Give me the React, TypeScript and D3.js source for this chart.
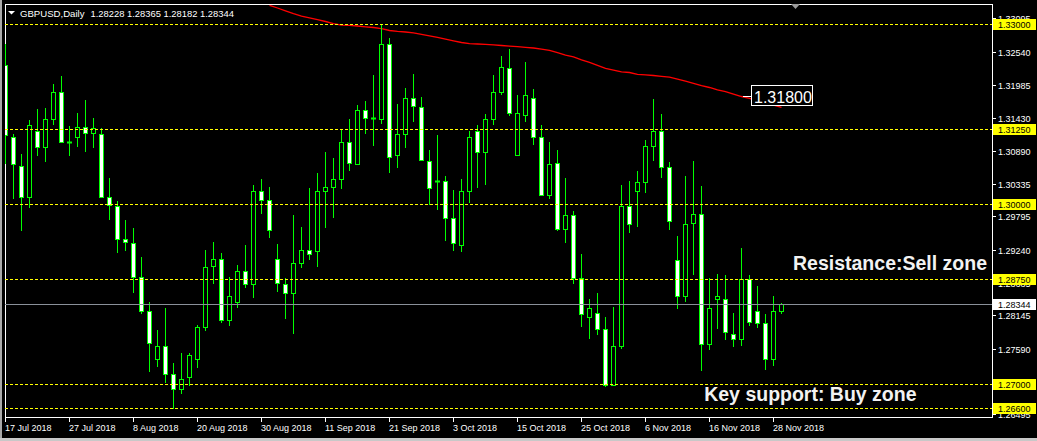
import React, { useEffect } from "react";
import * as d3 from "d3";

// ---- Data (GBPUSD Daily) ----
const dateLabels = [
  "17 Jul 2018", "27 Jul 2018", "8 Aug 2018", "20 Aug 2018", "30 Aug 2018",
  "11 Sep 2018", "21 Sep 2018", "3 Oct 2018", "15 Oct 2018", "25 Oct 2018",
  "6 Nov 2018", "16 Nov 2018", "28 Nov 2018",
];
const dateLabelStep = 8;

const opens = [
  1.32333, 1.31133, 1.3065, 1.30128, 1.31217, 1.3095, 1.31433, 1.31867, 1.3105, 1.31133,
  1.313, 1.312, 1.31183, 1.30128, 1.29967, 1.29433, 1.29361, 1.28794, 1.28217, 1.27417,
  1.2765, 1.27167, 1.26933, 1.27117, 1.27417, 1.2795, 1.28983, 1.291, 1.28083, 1.28367,
  1.289, 1.28683, 1.30233, 1.30067, 1.291, 1.28683, 1.28517, 1.29033, 1.2925, 1.29217,
  1.30233, 1.303, 1.30417, 1.3105, 1.30683, 1.31567, 1.31439, 1.31433, 1.32667, 1.30817,
  1.31167, 1.31767, 1.31633, 1.30733, 1.30389, 1.304, 1.29767, 1.29333, 1.30217, 1.31217,
  1.30883, 1.31417, 1.31883, 1.32267, 1.30833, 1.315, 1.31783, 1.31117, 1.30161, 1.307,
  1.296, 1.29817, 1.28783, 1.28133, 1.282, 1.27917, 1.27, 1.2765, 1.29967, 1.30217,
  1.30367, 1.30967, 1.31233, 1.30617, 1.29083, 1.28467, 1.297, 1.2985, 1.27683, 1.28433,
  1.28428, 1.2785, 1.2775, 1.2875, 1.28217, 1.28033, 1.27433, 1.28228,
];
const highs = [
  1.32683, 1.31172, 1.30839, 1.31406, 1.31589, 1.31606, 1.32006, 1.32139, 1.31306, 1.31522,
  1.31739, 1.31439, 1.31283, 1.30439, 1.30056, 1.29739, 1.29606, 1.29117, 1.28372, 1.27906,
  1.28272, 1.2735, 1.27533, 1.27517, 1.27989, 1.29239, 1.29372, 1.29189, 1.288, 1.29,
  1.29322, 1.30322, 1.30428, 1.30289, 1.29339, 1.28767, 1.29822, 1.29622, 1.30283, 1.30522,
  1.30872, 1.30772, 1.31244, 1.31433, 1.31656, 1.31717, 1.32156, 1.32989, 1.32772, 1.31672,
  1.31939, 1.32172, 1.31789, 1.30906, 1.31156, 1.30483, 1.30239, 1.30422, 1.31222, 1.31317,
  1.31506, 1.32156, 1.32472, 1.32589, 1.31822, 1.32372, 1.31922, 1.31317, 1.31039, 1.30906,
  1.30439, 1.299, 1.29183, 1.28422, 1.28522, 1.28122, 1.283, 1.30333, 1.304, 1.30556,
  1.31067, 1.31756, 1.31506, 1.30711, 1.29472, 1.30472, 1.30728, 1.30306, 1.28767, 1.28839,
  1.28817, 1.28189, 1.29272, 1.28822, 1.28639, 1.28183, 1.28467, 1.28365,
];
const lows = [
  1.30672, 1.30094, 1.29561, 1.29944, 1.30811, 1.30711, 1.31328, 1.31044, 1.30811, 1.30956,
  1.30878, 1.30944, 1.30122, 1.29744, 1.29194, 1.29222, 1.28528, 1.28178, 1.27211, 1.27294,
  1.27028, 1.266, 1.2685, 1.26972, 1.27278, 1.279, 1.28667, 1.28033, 1.27978, 1.28272,
  1.28611, 1.28444, 1.29839, 1.29444, 1.28544, 1.28089, 1.27839, 1.28944, 1.29083, 1.28961,
  1.29611, 1.29778, 1.30261, 1.30561, 1.30678, 1.31178, 1.30978, 1.31344, 1.30528, 1.30611,
  1.30944, 1.31378, 1.30728, 1.3, 1.29911, 1.29394, 1.29228, 1.29211, 1.30028, 1.30278,
  1.30328, 1.31328, 1.31817, 1.31483, 1.30811, 1.31378, 1.30994, 1.30144, 1.30094, 1.2955,
  1.29361, 1.28667, 1.27961, 1.27761, 1.27833, 1.2695, 1.26983, 1.276, 1.29517, 1.29633,
  1.302, 1.30728, 1.30444, 1.29578, 1.28261, 1.28367, 1.28817, 1.27228, 1.27583, 1.27928,
  1.27744, 1.27628, 1.27644, 1.27978, 1.27944, 1.27244, 1.27311, 1.28182,
];
const closes = [
  1.31156, 1.30683, 1.30128, 1.31317, 1.3095, 1.31433, 1.31867, 1.3105, 1.3104, 1.313,
  1.312, 1.31267, 1.30128, 1.3, 1.29433, 1.29378, 1.28794, 1.28222, 1.27694, 1.2765,
  1.27167, 1.26933, 1.271, 1.275, 1.2795, 1.2895, 1.291, 1.28083, 1.28467, 1.289,
  1.28683, 1.30233, 1.30067, 1.29583, 1.287, 1.28517, 1.29033, 1.2925, 1.29167, 1.30233,
  1.303, 1.30433, 1.3105, 1.307, 1.31567, 1.3145, 1.31439, 1.32683, 1.308, 1.31167,
  1.31767, 1.3165, 1.30744, 1.30283, 1.30389, 1.29783, 1.2935, 1.30217, 1.31133, 1.30883,
  1.31417, 1.31883, 1.323, 1.31517, 1.31517, 1.31833, 1.31133, 1.30161, 1.30667, 1.296,
  1.29833, 1.28783, 1.28167, 1.28283, 1.27917, 1.27, 1.2765, 1.29983, 1.29683, 1.30367,
  1.30967, 1.31233, 1.30617, 1.29733, 1.28483, 1.29683, 1.2985, 1.27683, 1.28267, 1.28483,
  1.27872, 1.2775, 1.2875, 1.2805, 1.28033, 1.27433, 1.28217, 1.28344,
];

// Moving average (red), starting at bar index maStart
const maStart = 33;
const maValues = [
  1.3332, 1.33275, 1.33228, 1.33182, 1.3314, 1.3311, 1.3308, 1.3305, 1.33015, 1.3299,
  1.32985, 1.32975, 1.32962, 1.3295, 1.3293, 1.329, 1.32885, 1.32875, 1.3286, 1.32835,
  1.32812, 1.32785, 1.32755, 1.32728, 1.327, 1.3268, 1.32675, 1.3267, 1.3266, 1.3265,
  1.3264, 1.3263, 1.3262, 1.32608, 1.3259, 1.3257, 1.3253, 1.3249, 1.3246, 1.3241,
  1.3237, 1.3232, 1.3227, 1.3224, 1.3221, 1.322, 1.3217, 1.3216, 1.3215, 1.32135,
  1.32122, 1.3209, 1.32055, 1.3202, 1.3198, 1.3195, 1.3191, 1.3188, 1.3184, 1.318,
  1.3177, 1.3173, 1.3169, 1.31655, 1.3162,
];

const priceTicks = [
  1.33095, 1.3254, 1.31985, 1.3143, 1.3089, 1.30335, 1.29795, 1.2924, 1.28685,
  1.28145, 1.2759, 1.26495,
];
const levelLines = [1.33, 1.3125, 1.3, 1.2875, 1.27, 1.266];
const bidPrice = 1.28344;
const maLabelValue = 1.318;
const headerSymbol = "GBPUSD,Daily";
const annotations = [
  { text: "Resistance:Sell zone", price: 1.2891, bar: 98.5 },
  { text: "Key support: Buy zone", price: 1.26725, bar: 87.4 },
];

// ---- Layout ----
const W = 1037;
const H = 441;
const left = 5;
const right = 992;
const top = 4;
const bottom = 417;
const FONT = "'Liberation Sans', Arial, Helvetica, sans-serif";
const GREEN = "#00ff00";

export default function App() {
  useEffect(() => {
    document.body.style.margin = "0";
    document.body.style.background = "#000";
  }, []);

  const x = d3.scaleLinear().domain([0, 97]).range([5, 5 + 97 * 8]);
  const y = d3.scaleLinear().domain([1.266, 1.33]).range([408.5, 24.5]);
  const fmt = d3.format(".5f");
  const crisp = (v: number) => Math.floor(v) + 0.5;

  const candles = opens.map((o, i) => {
    const cx = Math.round(x(i)) + 0.5;
    const yo = y(o);
    const yc = y(closes[i]);
    const yh = Math.round(y(highs[i]));
    const yl = Math.round(y(lows[i]));
    const t = Math.round(Math.min(yo, yc));
    const b = Math.round(Math.max(yo, yc));
    const bear = closes[i] < o;
    return (
      <g key={i}>
        <line x1={cx} x2={cx} y1={yh} y2={yl} stroke={GREEN} strokeWidth={1} />
        {b - t < 1 ? (
          <line x1={cx - 2.5} x2={cx + 2.5} y1={t + 0.5} y2={t + 0.5} stroke={GREEN} strokeWidth={2} />
        ) : (
          <rect x={cx - 2} y={t + 0.5} width={4} height={b - t} fill={bear ? "#ffffff" : "#000000"} stroke={GREEN} strokeWidth={1} />
        )}
      </g>
    );
  });

  const maLine = d3
    .line<number>()
    .x((_, k) => Math.round(x(maStart + k)) + 0.5)
    .y((v) => y(v));

  const bidY = Math.round(y(bidPrice)) + 0.5;
  const maLabelY = y(maLabelValue);

  return (
    <svg width={W} height={H} style={{ position: "fixed", left: 0, top: 0, display: "block", background: "#000" }} fontFamily={FONT}>
      <defs>
        <clipPath id="plot">
          <rect x={left} y={top + 1} width={right - left} height={bottom - top - 1} />
        </clipPath>
      </defs>
      <rect x={0} y={0} width={W} height={H} fill="#000" />
      {/* window edge */}
      <rect x={0} y={0} width={2} height={H} fill="#a8a8a8" />
      <rect x={0} y={438} width={W} height={3} fill="#c8c8c8" />

      {/* frame */}
      <rect x={left + 0.5} y={top + 0.5} width={right - left} height={bottom - top} fill="none" stroke="#ffffff" strokeWidth={1} />

      <g clipPath="url(#plot)">
        <path d={maLine(maValues) || ""} fill="none" stroke="#ff0000" strokeWidth={1.3} />
        {candles}
        {levelLines.map((p) => (
          <line key={p} x1={left} x2={right} y1={crisp(y(p))} y2={crisp(y(p))} stroke="#ffff00" strokeWidth={1} strokeDasharray="3,2" />
        ))}
        <line x1={left} x2={right} y1={bidY} y2={bidY} stroke="#8a9099" strokeWidth={1} />
      </g>

      {/* header */}
      <path d="M8,11 L15,11 L11.5,14.5 Z" fill="#ffffff" />
      <text x={20} y={16.5} fontSize={9.6} fill="#ffffff">{headerSymbol}</text>
      <text x={90.5} y={16.5} fontSize={9.4} fill="#ffffff">
        {[opens[97], highs[97], lows[97], closes[97]].map(fmt).join(" ")}
      </text>
      {/* chart shift marker */}
      <path d="M791,4 L800,4 L795.5,9 Z" fill="#9a9a9a" />

      {/* MA price label */}
      <line x1={743} x2={752} y1={crisp(maLabelY)} y2={crisp(maLabelY)} stroke="#ffffff" strokeWidth={1} />
      <rect x={751.5} y={85.5} width={61} height={20} fill="#000" stroke="#ffffff" strokeWidth={1} />
      <text x={754} y={102.5} fontSize={16} fill="#ffffff">{fmt(maLabelValue)}</text>

      {/* annotations */}
      {annotations.map((a) => (
        <text key={a.text} x={x(a.bar)} y={y(a.price)} fontSize={19.5} fontWeight="bold" fill="#f2f2f2">{a.text}</text>
      ))}

      {/* right price axis */}
      {priceTicks.map((p) => (
        <g key={p}>
          <line x1={993} x2={996} y1={crisp(y(p))} y2={crisp(y(p))} stroke="#ffffff" />
          <text x={998} y={y(p) + 3.4} fontSize={9} fill="#ffffff">{fmt(p)}</text>
        </g>
      ))}
      {levelLines.map((p) => (
        <g key={"lv" + p}>
          <rect x={993} y={Math.floor(y(p)) - 5} width={43} height={11} fill="#ffff00" />
          <text x={998} y={y(p) + 3.4} fontSize={9} fill="#000000">{fmt(p)}</text>
        </g>
      ))}
      <rect x={993} y={bidY - 5.5} width={43} height={11} fill="#ffffff" />
      <text x={998} y={bidY + 3.4} fontSize={9} fill="#000000">{fmt(bidPrice)}</text>

      {/* bottom date axis */}
      {dateLabels.map((d, k) => {
        const px = Math.round(x(k * dateLabelStep)) + 0.5;
        return (
          <g key={d}>
            <line x1={px} x2={px} y1={418} y2={422} stroke="#ffffff" />
            <text x={px - 0.5} y={431} fontSize={9} fill="#ffffff">{d}</text>
          </g>
        );
      })}
    </svg>
  );
}
